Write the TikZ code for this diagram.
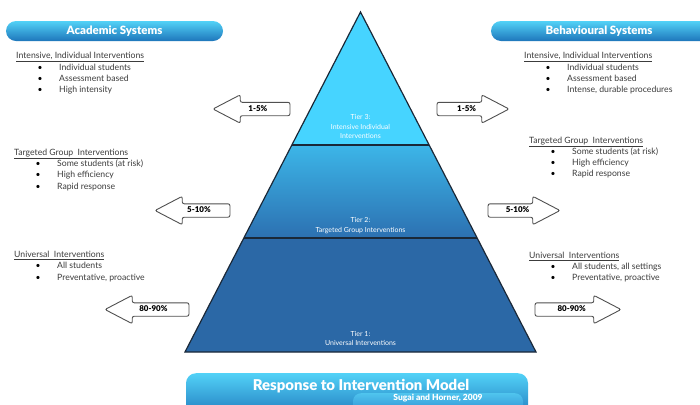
\documentclass[tikz,border=0pt]{standalone}
\usepackage{fontspec}
\setmainfont{Lato}
\newfontfamily\heavy{Lato Black}
\usepackage{tikz}
\usetikzlibrary{shapes.arrows}
\definecolor{pilltop}{HTML}{52D2F7}
\definecolor{pillbot}{HTML}{1E76BB}
\definecolor{subtop}{HTML}{4FC4EE}
\definecolor{subbot}{HTML}{2F8FD2}
\definecolor{tierthree}{HTML}{46D4FF}
\definecolor{tiertwotop}{HTML}{3CB6E8}
\definecolor{tiertwobot}{HTML}{2C70B1}
\definecolor{tierone}{HTML}{2B68A6}
\definecolor{edge}{HTML}{1A2838}
\definecolor{txtgray}{HTML}{3C3C3C}
\definecolor{arrowgray}{HTML}{505050}
\tikzstyle{pill} = [rectangle, rounded corners=10bp, top color=pilltop, bottom color=pillbot, draw=none]
\tikzstyle{title} = [text=white, font=\heavy\fontsize{11.5}{12}\selectfont]
\tikzstyle{head} = [anchor=base west, inner sep=0pt, text=txtgray, font=\fontsize{8.7}{9}\selectfont]
\tikzstyle{item} = [anchor=base west, inner sep=0pt, text=txtgray, font=\fontsize{8.7}{9}\selectfont]
\tikzstyle{bul} = [anchor=base, inner sep=0pt, text=black, font=\fontsize{8.5}{9}\selectfont]
\tikzstyle{share} = [single arrow, draw=arrowgray, line width=0.9bp, fill=white, rounded corners=2bp, minimum height=75bp, text height=6bp, text depth=1.5bp, inner sep=2.5bp, single arrow head extend=7.5bp, single arrow tip angle=55, text=black, font=\heavy\fontsize{8}{8}\selectfont]
\tikzstyle{tier} = [text=white, align=center, font=\fontsize{7}{9.5}\selectfont]

\begin{document}
\begin{tikzpicture}[x=1bp, y=-1bp]

		\clip (0,0) rectangle (700,404);

		% pyramid
		\coordinate (apex) at (360.5,12);
		\coordinate (bl) at (185,352);
		\coordinate (br) at (536,352);
		\coordinate (ml) at (244,238);
		\coordinate (mr) at (477,238);
		\coordinate (tl) at (292,145);
		\coordinate (tr) at (429,145);

		\fill [tierone] (ml) -- (mr) -- (br) -- (bl) -- cycle;
		\shade [top color=tiertwotop, bottom color=tiertwobot] (tl) -- (tr) -- (mr) -- (ml) -- cycle;
		\fill [tierthree] (apex) -- (tr) -- (tl) -- cycle;
		\draw [edge, line width=1.2bp] (apex) -- (br) -- (bl) -- cycle;
		\draw [edge, line width=1.2bp] (tl) -- (tr);
		\draw [edge, line width=1.2bp] (ml) -- (mr);

		\node (tier3) [tier] at (360.5,126.5) {Tier 3:\\Intensive Individual\\Interventions};
		\node (tier2) [tier] at (360.5,225.5) {Tier 2:\\Targeted Group Interventions};
		\node (tier1) [tier] at (360.5,338.5) {Tier 1:\\Universal Interventions};

		% headers
		\node (acad) [pill, minimum width=217bp, minimum height=20bp] at (114.5,31) {};
		\node (acadtxt) [title] at (acad) {Academic Systems};
		\node (behav) [pill, minimum width=221bp, minimum height=20bp] at (601.5,31) {};
		\node (behavtxt) [title] at (599,31) {Behavioural Systems};

		% academic side
		\node (ahead1) [head] at (16,58.5) {\underline{Intensive, Individual Interventions}};
		\node (ab11) [bul] at (40,70.5) {•};
		\node (ab12) [bul] at (40,81.5) {•};
		\node (ab13) [bul] at (40,92.5) {•};
		\node (ai11) [item] at (59,70.5) {Individual students};
		\node (ai12) [item] at (59,81.5) {Assessment based};
		\node (ai13) [item] at (59,92.5) {High intensity};

		\node (ahead2) [head] at (14,155.5) {\underline{Targeted Group\ \ Interventions}};
		\node (ab21) [bul] at (38,166.5) {•};
		\node (ab22) [bul] at (38,177.5) {•};
		\node (ab23) [bul] at (38,189.5) {•};
		\node (ai21) [item] at (57,166.5) {Some students (at risk)};
		\node (ai22) [item] at (57,177.5) {High efficiency};
		\node (ai23) [item] at (57,189.5) {Rapid response};

		\node (ahead3) [head] at (14,257.5) {\underline{Universal\ \ Interventions}};
		\node (ab31) [bul] at (38,268.5) {•};
		\node (ab32) [bul] at (38,280.5) {•};
		\node (ai31) [item] at (57,268.5) {All students};
		\node (ai32) [item] at (57,280.5) {Preventative, proactive};

		% behavioural side
		\node (bhead1) [head] at (524,58.5) {\underline{Intensive, Individual Interventions}};
		\node (bb11) [bul] at (548,70.5) {•};
		\node (bb12) [bul] at (548,81.5) {•};
		\node (bb13) [bul] at (548,92.5) {•};
		\node (bi11) [item] at (567,70.5) {Individual students};
		\node (bi12) [item] at (567,81.5) {Assessment based};
		\node (bi13) [item] at (567,92.5) {Intense, durable procedures};

		\node (bhead2) [head] at (529,143.5) {\underline{Targeted Group\ \ Interventions}};
		\node (bb21) [bul] at (553,154.5) {•};
		\node (bb22) [bul] at (553,165.5) {•};
		\node (bb23) [bul] at (553,176.5) {•};
		\node (bi21) [item] at (572,154.5) {Some students (at risk)};
		\node (bi22) [item] at (572,165.5) {High efficiency};
		\node (bi23) [item] at (572,176.5) {Rapid response};

		\node (bhead3) [head] at (529,258.5) {\underline{Universal\ \ Interventions}};
		\node (bb31) [bul] at (553,269.5) {•};
		\node (bb32) [bul] at (553,280.5) {•};
		\node (bi31) [item] at (572,269.5) {All students, all settings};
		\node (bi32) [item] at (572,280.5) {Preventative, proactive};

		% percentage arrows
		\node (aarrow1) [share, shape border rotate=180, anchor=tip, minimum height=77bp] at (212,109) {1-5\%};
		\node (aarrow2) [share, shape border rotate=180, anchor=tip] at (154,210.5) {5-10\%};
		\node (aarrow3) [share, shape border rotate=180, anchor=tip, minimum height=84bp] at (104,309.5) {80-90\%};
		\node (barrow1) [share, anchor=tip, minimum height=72bp] at (510,109) {1-5\%};
		\node (barrow2) [share, anchor=tip, minimum height=72bp] at (561,210.5) {5-10\%};
		\node (barrow3) [share, anchor=tip, minimum height=86bp] at (622,309.5) {80-90\%};

		% banner
		\node (banner) [pill, minimum width=342bp, minimum height=46bp, anchor=north] at (357,373) {};
		\node (model) [title, font=\heavy\fontsize{15}{16}\selectfont] at (361,386.5) {Response to Intervention Model};
		\node (ref) [pill, rounded corners=8bp, top color=subtop, bottom color=subbot, minimum width=170bp, minimum height=20bp, anchor=north] at (438,393) {};
		\node (reftxt) [title, font=\heavy\fontsize{8.5}{8}\selectfont] at (438,398) {Sugai and Horner, 2009};

		\end{tikzpicture}
\end{document}
